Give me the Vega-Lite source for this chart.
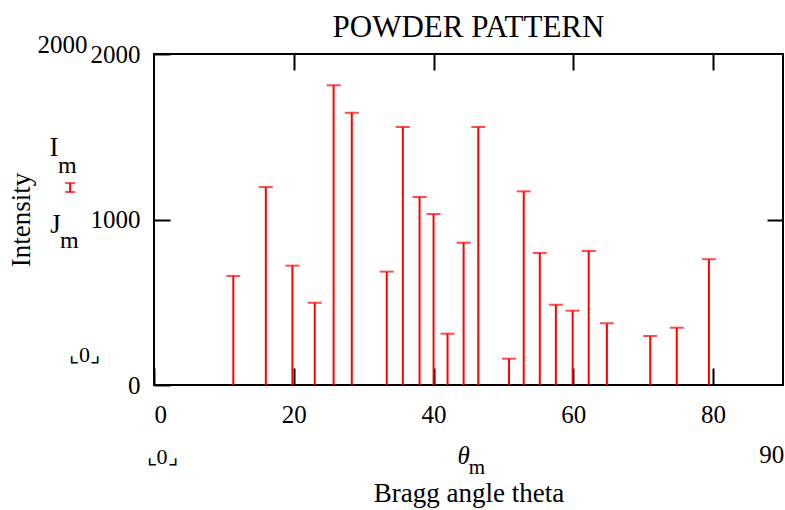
{
  "$schema": "https://vega.github.io/schema/vega-lite/v6.json",
  "autosize": "none",
  "width": 629,
  "height": 331,
  "padding": {"left": 154, "top": 54, "right": 2, "bottom": 125},
  "background": "white",
  "config": {
    "font": "Liberation Serif",
    "view": {"stroke": "black", "strokeWidth": 2},
    "axis": {"grid": false, "domain": false, "tickColor": "black", "tickWidth": 2, "labelColor": "black", "titleColor": "black", "labelFont": "Liberation Serif", "titleFont": "Liberation Serif", "titleFontWeight": "normal"}
  },
  "title": {"text": "POWDER PATTERN", "fontSize": 31, "fontWeight": "normal", "font": "Liberation Serif", "color": "black", "offset": -11, "anchor": "middle"},
  "data": {"values": [
    {"theta": 11.35, "I": 659},
    {"theta": 16.0, "I": 1196},
    {"theta": 19.8, "I": 721},
    {"theta": 23.0, "I": 497},
    {"theta": 25.7, "I": 1811},
    {"theta": 28.3, "I": 1645},
    {"theta": 33.3, "I": 685},
    {"theta": 35.6, "I": 1559},
    {"theta": 38.0, "I": 1136},
    {"theta": 40.0, "I": 1033},
    {"theta": 42.0, "I": 310},
    {"theta": 44.3, "I": 860},
    {"theta": 46.4, "I": 1559},
    {"theta": 50.8, "I": 159},
    {"theta": 52.9, "I": 1170},
    {"theta": 55.2, "I": 798},
    {"theta": 57.5, "I": 485},
    {"theta": 59.9, "I": 449},
    {"theta": 62.2, "I": 810},
    {"theta": 64.8, "I": 373},
    {"theta": 71.0, "I": 296},
    {"theta": 74.8, "I": 346},
    {"theta": 79.4, "I": 760}
  ]},
  "resolve": {"axis": {"x": "independent", "y": "independent"}},
  "layer": [
    {
      "mark": {"type": "rule", "color": "#ff0000", "strokeWidth": 2},
      "encoding": {
        "x": {"field": "theta", "type": "quantitative", "scale": {"domain": [0, 90], "nice": false, "zero": false},
              "axis": {"orient": "bottom", "values": [0, 20, 40, 60, 80], "tickSize": -17, "labelPadding": 34, "labelFontSize": 25, "title": "Bragg angle theta", "titleFontSize": 27, "titlePadding": 53, "labelFlush": true}},
        "y": {"field": "I", "type": "quantitative", "scale": {"domain": [0, 2000], "nice": false, "zero": false},
              "axis": {"orient": "left", "values": [0, 1000, 2000], "format": "d", "tickSize": -16, "labelPadding": 30, "labelFontSize": 25, "title": "Intensity", "titleFontSize": 27, "titlePadding": 55}},
        "y2": {"datum": 0}
      }
    },
    {
      "mark": {"type": "tick", "orient": "horizontal", "color": "#ff0000", "size": 14, "thickness": 2},
      "encoding": {
        "x": {"field": "theta", "type": "quantitative", "axis": {"orient": "top", "values": [20, 40, 60, 80], "tickSize": -16, "labels": false, "title": null}},
        "y": {"field": "I", "type": "quantitative", "axis": {"orient": "right", "values": [1000], "tickSize": -16, "labels": false, "title": null}}
      }
    },
    {
      "data": {"values": [{}]},
      "mark": {"type": "text", "text": "2000", "fontSize": 25, "color": "black"},
      "encoding": {"x": {"datum": -13.1, "type": "quantitative", "axis": null}, "y": {"datum": 2054, "type": "quantitative", "axis": null}}
    },
    {
      "data": {"values": [{}]},
      "mark": {"type": "text", "text": "I", "fontSize": 27, "color": "black"},
      "encoding": {"x": {"datum": -14.3, "type": "quantitative", "axis": null}, "y": {"datum": 1432, "type": "quantitative", "axis": null}}
    },
    {
      "data": {"values": [{}]},
      "mark": {"type": "text", "text": "m", "fontSize": 24, "color": "black"},
      "encoding": {"x": {"datum": -12.4, "type": "quantitative", "axis": null}, "y": {"datum": 1323, "type": "quantitative", "axis": null}}
    },
    {
      "data": {"values": [{}]},
      "mark": {"type": "rule", "color": "#ff0000", "strokeWidth": 2},
      "encoding": {"x": {"datum": -12.0, "type": "quantitative", "axis": null}, "y": {"datum": 1166, "type": "quantitative", "axis": null}, "y2": {"datum": 1220}}
    },
    {
      "data": {"values": [{}]},
      "mark": {"type": "tick", "orient": "horizontal", "color": "#ff0000", "size": 10, "thickness": 2},
      "encoding": {"x": {"datum": -12.0, "type": "quantitative", "axis": null}, "y": {"datum": 1166, "type": "quantitative", "axis": null}}
    },
    {
      "data": {"values": [{}]},
      "mark": {"type": "tick", "orient": "horizontal", "color": "#ff0000", "size": 10, "thickness": 2},
      "encoding": {"x": {"datum": -12.0, "type": "quantitative", "axis": null}, "y": {"datum": 1220, "type": "quantitative", "axis": null}}
    },
    {
      "data": {"values": [{}]},
      "mark": {"type": "text", "text": "J", "fontSize": 27, "color": "black"},
      "encoding": {"x": {"datum": -14.1, "type": "quantitative", "axis": null}, "y": {"datum": 967, "type": "quantitative", "axis": null}}
    },
    {
      "data": {"values": [{}]},
      "mark": {"type": "text", "text": "m", "fontSize": 24, "color": "black"},
      "encoding": {"x": {"datum": -12.1, "type": "quantitative", "axis": null}, "y": {"datum": 870, "type": "quantitative", "axis": null}}
    },
    {
      "data": {"values": [{}]},
      "mark": {"type": "text", "text": "⌞0⌟", "fontSize": 22, "color": "black"},
      "encoding": {"x": {"datum": -9.96, "type": "quantitative", "axis": null}, "y": {"datum": 181, "type": "quantitative", "axis": null}}
    },
    {
      "data": {"values": [{}]},
      "mark": {"type": "text", "text": "⌞0⌟", "fontSize": 22, "color": "black"},
      "encoding": {"x": {"datum": 1.15, "type": "quantitative", "axis": null}, "y": {"datum": -435, "type": "quantitative", "axis": null}}
    },
    {
      "data": {"values": [{}]},
      "mark": {"type": "text", "text": "θ", "fontSize": 25, "fontStyle": "italic", "color": "black"},
      "encoding": {"x": {"datum": 44.3, "type": "quantitative", "axis": null}, "y": {"datum": -430, "type": "quantitative", "axis": null}}
    },
    {
      "data": {"values": [{}]},
      "mark": {"type": "text", "text": "m", "fontSize": 21, "color": "black"},
      "encoding": {"x": {"datum": 46.2, "type": "quantitative", "axis": null}, "y": {"datum": -500, "type": "quantitative", "axis": null}}
    },
    {
      "data": {"values": [{}]},
      "mark": {"type": "text", "text": "90", "fontSize": 25, "color": "black"},
      "encoding": {"x": {"datum": 88.4, "type": "quantitative", "axis": null}, "y": {"datum": -423, "type": "quantitative", "axis": null}}
    }
  ]
}
